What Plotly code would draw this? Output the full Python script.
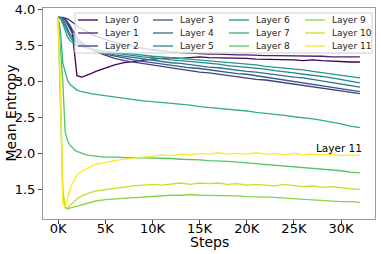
import plotly.graph_objects as go
from plotly.colors import sample_colorscale

steps = [0, 250, 500, 750, 1000, 1250, 1500, 1750, 2000, 2500, 3000, 3500, 4000,
         5000, 6000, 7000, 8000, 9000, 10000, 11000, 12000, 13000, 14000, 15000, 16000,
         17000, 18000, 19000, 20000, 21000, 22000, 23000, 24000, 25000, 26000, 27000,
         28000, 29000, 30000, 31000, 32000]

layer0 = [3.89, 3.89, 3.88, 3.86, 3.82, 3.77, 3.68, 3.35, 3.08, 3.06, 3.08, 3.11, 3.14,
          3.19, 3.23, 3.26, 3.28, 3.30, 3.31, 3.32, 3.33, 3.32, 3.33, 3.34, 3.33, 3.33, 3.32,
          3.33, 3.32, 3.31, 3.31, 3.30, 3.31, 3.30, 3.29, 3.30, 3.29, 3.28, 3.28, 3.27, 3.27]
layer1 = [3.89, 3.89, 3.89, 3.88, 3.87, 3.85, 3.83, 3.80, 3.77, 3.73, 3.69, 3.66, 3.63,
          3.58, 3.54, 3.51, 3.48, 3.46, 3.44, 3.42, 3.41, 3.40, 3.39, 3.39, 3.38, 3.38, 3.37,
          3.37, 3.37, 3.36, 3.36, 3.36, 3.36, 3.35, 3.35, 3.35, 3.35, 3.34, 3.34, 3.34, 3.34]
layer2 = [3.89, 3.89, 3.89, 3.87, 3.83, 3.78, 3.72, 3.66, 3.61, 3.54, 3.49, 3.45, 3.41,
          3.36, 3.32, 3.29, 3.27, 3.24, 3.22, 3.20, 3.19, 3.17, 3.15, 3.13, 3.12, 3.10, 3.08,
          3.07, 3.05, 3.03, 3.02, 3.00, 2.98, 2.96, 2.95, 2.93, 2.91, 2.89, 2.87, 2.85, 2.83]
layer3 = [3.89, 3.89, 3.88, 3.85, 3.79, 3.72, 3.66, 3.61, 3.57, 3.52, 3.48, 3.45, 3.42,
          3.38, 3.35, 3.32, 3.30, 3.28, 3.26, 3.24, 3.23, 3.21, 3.19, 3.18, 3.16, 3.15, 3.13,
          3.11, 3.10, 3.08, 3.06, 3.04, 3.03, 3.01, 2.99, 2.97, 2.95, 2.93, 2.91, 2.88, 2.86]
layer4 = [3.89, 3.89, 3.87, 3.81, 3.73, 3.66, 3.61, 3.57, 3.54, 3.50, 3.47, 3.45, 3.43,
          3.40, 3.37, 3.35, 3.33, 3.31, 3.29, 3.28, 3.26, 3.25, 3.23, 3.22, 3.20, 3.19, 3.17,
          3.16, 3.14, 3.13, 3.11, 3.10, 3.08, 3.06, 3.05, 3.03, 3.01, 2.99, 2.97, 2.95, 2.92]
layer5 = [3.89, 3.89, 3.84, 3.76, 3.68, 3.62, 3.58, 3.55, 3.52, 3.49, 3.47, 3.45, 3.44,
          3.41, 3.39, 3.37, 3.35, 3.34, 3.33, 3.31, 3.30, 3.29, 3.28, 3.26, 3.25, 3.24, 3.22,
          3.21, 3.20, 3.18, 3.17, 3.15, 3.14, 3.12, 3.10, 3.09, 3.07, 3.05, 3.03, 3.01, 2.98]
layer6 = [3.89, 3.88, 3.80, 3.70, 3.62, 3.57, 3.54, 3.52, 3.50, 3.48, 3.46, 3.45, 3.44,
          3.42, 3.40, 3.39, 3.38, 3.36, 3.35, 3.34, 3.33, 3.32, 3.31, 3.30, 3.29, 3.28, 3.26,
          3.25, 3.24, 3.23, 3.21, 3.20, 3.19, 3.17, 3.16, 3.14, 3.12, 3.11, 3.09, 3.07, 3.05]
layer7 = [3.89, 3.70, 3.25, 3.12, 3.02, 2.96, 2.93, 2.90, 2.88, 2.86, 2.84, 2.83, 2.82,
          2.80, 2.78, 2.77, 2.75, 2.73, 2.72, 2.71, 2.69, 2.68, 2.67, 2.65, 2.64, 2.63, 2.61,
          2.60, 2.59, 2.57, 2.56, 2.54, 2.53, 2.51, 2.50, 2.48, 2.46, 2.44, 2.41, 2.38, 2.36]
layer8 = [3.89, 3.50, 3.00, 2.30, 2.18, 2.12, 2.08, 2.05, 2.03, 2.00, 1.98, 1.97, 1.96,
          1.95, 1.95, 1.94, 1.94, 1.94, 1.94, 1.93, 1.93, 1.92, 1.92, 1.91, 1.90, 1.90, 1.89,
          1.88, 1.87, 1.86, 1.85, 1.84, 1.83, 1.82, 1.81, 1.80, 1.78, 1.77, 1.76, 1.74, 1.73]
layer9 = [3.89, 2.80, 1.45, 1.25, 1.23, 1.24, 1.25, 1.26, 1.27, 1.29, 1.31, 1.32, 1.34,
          1.36, 1.37, 1.38, 1.39, 1.40, 1.41, 1.41, 1.42, 1.42, 1.43, 1.42, 1.42, 1.42, 1.41,
          1.41, 1.40, 1.40, 1.39, 1.39, 1.38, 1.37, 1.37, 1.36, 1.35, 1.34, 1.33, 1.33, 1.32]
layer10 = [3.89, 2.90, 1.50, 1.26, 1.24, 1.27, 1.31, 1.34, 1.37, 1.41, 1.44, 1.46, 1.48,
           1.50, 1.52, 1.54, 1.55, 1.56, 1.57, 1.56, 1.58, 1.59, 1.57, 1.59, 1.58, 1.59, 1.57,
           1.58, 1.56, 1.57, 1.56, 1.55, 1.57, 1.55, 1.54, 1.55, 1.53, 1.54, 1.52, 1.51, 1.50]
layer11 = [3.89, 3.00, 1.30, 1.26, 1.38, 1.50, 1.58, 1.65, 1.70, 1.75, 1.79, 1.82, 1.85,
           1.88, 1.90, 1.92, 1.94, 1.95, 1.96, 1.98, 1.97, 1.99, 1.98, 2.00, 1.99, 2.01, 1.99,
           2.00, 1.99, 2.01, 1.99, 2.00, 1.98, 2.00, 1.98, 1.99, 1.98, 1.99, 1.97, 1.98, 1.97]

layers = [layer0, layer1, layer2, layer3, layer4, layer5, layer6, layer7, layer8,
          layer9, layer10, layer11]
names = [f"Layer {i}" for i in range(12)]

x_tickvals = [0, 5000, 10000, 15000, 20000, 25000, 30000]
x_ticktext = ["0K", "5K", "10K", "15K", "20K", "25K", "30K"]
y_tickvals = [1.5, 2.0, 2.5, 3.0, 3.5, 4.0]
y_ticktext = ["1.5", "2.0", "2.5", "3.0", "3.5", "4.0"]

colors = sample_colorscale("Viridis", [i / 11 for i in range(12)])

W, H = 381, 254
ML, MR, MT, MB = 43, 6, 8, 35
PW, PH = W - ML - MR, H - MT - MB


def px_x(px):
    return (px - ML) / PW


def px_y(py):
    return (H - MB - py) / PH


fig = go.Figure()
for i, (vals, name) in enumerate(zip(layers, names)):
    fig.add_trace(go.Scatter(
        x=steps, y=vals, mode="lines", name=name,
        line=dict(color=colors[i], width=1.3),
    ))

font = "DejaVu Sans"

# Legend drawn as a 3-row x 4-column box (column-major order, like the original)
shapes = [dict(type="rect", xref="paper", yref="paper",
               x0=px_x(75), x1=px_x(372), y0=px_y(53), y1=px_y(13),
               fillcolor="rgba(255,255,255,0.8)", line=dict(color="#cccccc", width=1),
               layer="above")]
annotations = []
col_px = [78, 153, 229, 305]
row_px = [20, 33, 46]
for i, name in enumerate(names):
    c, r = i // 3, i % 3
    xl = col_px[c]
    yy = px_y(row_px[r])
    shapes.append(dict(type="line", xref="paper", yref="paper",
                       x0=px_x(xl), x1=px_x(xl + 20), y0=yy, y1=yy,
                       line=dict(color=colors[i], width=1.3), layer="above"))
    annotations.append(dict(xref="paper", yref="paper", x=px_x(xl + 25), y=yy,
                            text=name, showarrow=False, xanchor="left", yanchor="middle",
                            font=dict(size=9, family=font, color="#222222")))

annotations.append(dict(x=29800, y=2.08, text="Layer 11", showarrow=False,
                        font=dict(size=10.5, family=font, color="black")))
annotations.append(dict(xref="paper", yref="paper", x=0.5, y=px_y(242), text="Steps",
                        showarrow=False, xanchor="center", yanchor="middle",
                        font=dict(size=14, family=font, color="black")))
annotations.append(dict(xref="paper", yref="paper", x=px_x(10), y=0.5, text="Mean Entropy",
                        showarrow=False, textangle=-90, xanchor="center", yanchor="middle",
                        font=dict(size=14, family=font, color="black")))

fig.update_layout(
    width=W, height=H,
    margin=dict(l=ML, r=MR, t=MT, b=MB, autoexpand=False),
    paper_bgcolor="white", plot_bgcolor="white",
    font=dict(family=font, color="black"),
    showlegend=False,
    shapes=shapes, annotations=annotations,
    xaxis=dict(
        range=[-1600, 33600], tickvals=x_tickvals, ticktext=x_ticktext,
        showgrid=False, zeroline=False, showline=True, linecolor="#9a9a9a",
        linewidth=1, mirror=True, ticks="outside", ticklen=4, tickcolor="#444444",
        tickfont=dict(size=13), automargin=False, ticklabelstandoff=-7,
    ),
    yaxis=dict(
        range=[1.09, 4.02], tickvals=y_tickvals, ticktext=y_ticktext,
        showgrid=False, zeroline=False, showline=True, linecolor="#9a9a9a",
        linewidth=1, mirror=True, ticks="outside", ticklen=4, tickcolor="#444444",
        tickfont=dict(size=13), automargin=False,
    ),
)

fig.write_html("out.html", config={"displayModeBar": False},
               post_script="document.body.style.margin='0';document.body.style.overflow='hidden';")
